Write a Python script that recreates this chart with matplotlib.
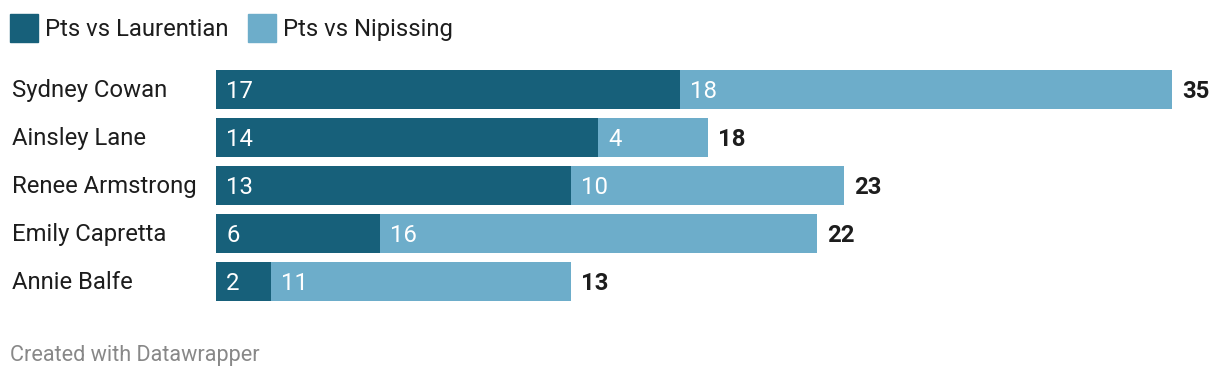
import matplotlib
matplotlib.use("Agg")
from matplotlib import pyplot as plt
from matplotlib.patches import Rectangle
from matplotlib.transforms import offset_copy

players = ["Sydney Cowan", "Ainsley Lane", "Renee Armstrong", "Emily Capretta", "Annie Balfe"]
pts_laurentian = [17, 14, 13, 6, 2]
pts_nipissing = [18, 4, 10, 16, 11]
series_names = ["Pts vs Laurentian", "Pts vs Nipissing"]

dark = "#17607a"
light = "#6dadca"
text_color = "#1d1d1d"

plt.rcParams["font.family"] = ["Roboto", "DejaVu Sans"]

W, H = 1220, 378
fig = plt.figure(figsize=(W / 100, H / 100), dpi=100)

left, right = 216, 1172
top, bottom = 65.5, 305.5
ax = fig.add_axes([left / W, 1 - bottom / H, (right - left) / W, (bottom - top) / H])
ax.set_xlim(0, 35)
ax.set_ylim(len(players) - 0.5, -0.5)
ax.axis("off")

ypos = list(range(len(players)))
ax.barh(ypos, pts_laurentian, height=0.833, color=dark)
ax.barh(ypos, pts_nipissing, left=pts_laurentian, height=0.833, color=light)

fs = 17.2
tr = offset_copy(ax.transData, fig=fig, x=10, y=-1.5, units="dots")
for i, name in enumerate(players):
    a, b = pts_laurentian[i], pts_nipissing[i]
    ax.text(0, i, str(a), transform=tr, color="white", fontsize=fs,
            va="center", ha="left")
    ax.text(a, i, str(b), transform=tr, color="white", fontsize=fs,
            va="center", ha="left")
    ax.text(a + b, i, str(a + b), transform=tr, color=text_color, fontsize=fs,
            fontweight="bold", va="center", ha="left", clip_on=False)
    fig.text(12 / W, 1 - (90.5 + 48 * i) / H, name, color=text_color, fontsize=fs,
             va="center", ha="left")

# legend
legend_x = [10, 248]
for x, name, c in zip(legend_x, series_names, [dark, light]):
    fig.patches.append(Rectangle((x / W, 1 - 41.5 / H), 27.5 / W, 27.5 / H,
                                 transform=fig.transFigure, color=c))
    fig.text((x + 35) / W, 1 - 29.5 / H, name, color=text_color, fontsize=fs,
             va="center", ha="left")

fig.text(10 / W, 1 - 356 / H, "Created with Datawrapper", color="#888888",
         fontsize=15.6, va="center", ha="left")

fig.savefig("out.png", dpi=100, facecolor="white")
